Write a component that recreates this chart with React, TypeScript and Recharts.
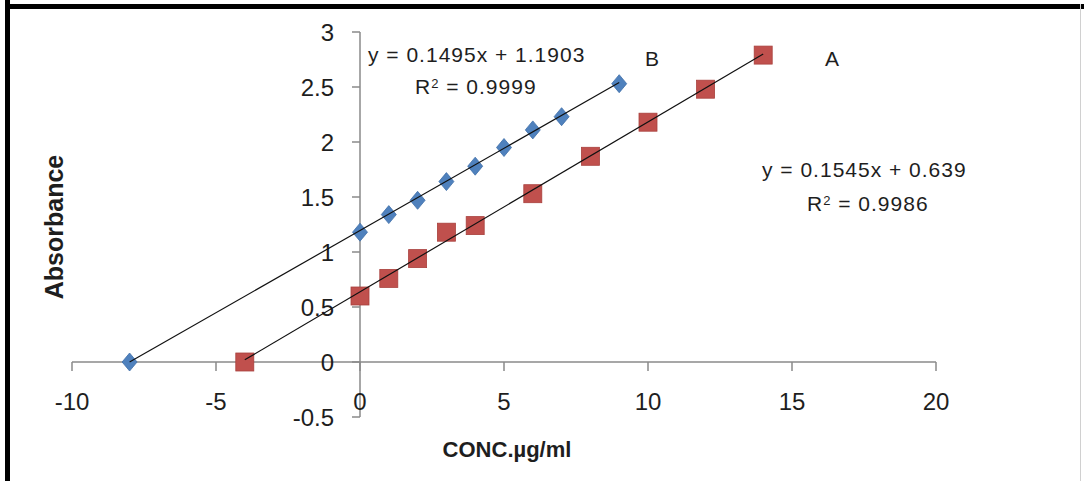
import React from 'react';
import { ScatterChart, Scatter, XAxis, YAxis, ReferenceLine, ReferenceDot } from 'recharts';

// Series A (red squares)
const seriesAX = [-4, 0, 1, 2, 3, 4, 6, 8, 10, 12, 14];
const seriesAY = [0, 0.6, 0.76, 0.94, 1.18, 1.24, 1.53, 1.87, 2.18, 2.48, 2.79];
// Series B (blue diamonds)
const seriesBX = [-8, 0, 1, 2, 3, 4, 5, 6, 7, 9];
const seriesBY = [0, 1.18, 1.34, 1.47, 1.64, 1.78, 1.95, 2.11, 2.23, 2.53];
// Trend line end points
const trendAX = [-4, 14];
const trendAY = [0.02, 2.8];
const trendBX = [-8, 9];
const trendBY = [0, 2.54];
// Ticks
const xTicks = [-10, -5, 0, 5, 10, 15, 20];
const yTicks = [-0.5, 0, 0.5, 1, 1.5, 2, 2.5, 3];
const yTickLabels = ['-0.5', '0', '0.5', '1', '1.5', '2', '2.5', '3'];

const zip = (xs: number[], ys: number[]) => xs.map((x, i) => ({ x, y: ys[i] }));
const dataA = zip(seriesAX, seriesAY);
const dataB = zip(seriesBX, seriesBY);
const lineA = zip(trendAX, trendAY);
const lineB = zip(trendBX, trendBY);

const FONT = '"Liberation Sans", Arial, sans-serif';
const AXIS = '#8a8a8a';
const TEXT = '#1e1e1e';

const Square = (p: any) => (
  <rect x={p.cx - 9} y={p.cy - 9} width={18} height={18} fill="#C0504D" stroke="#A8403D" strokeWidth={0.8} />
);
const Diamond = (p: any) => (
  <polygon
    points={`${p.cx},${p.cy - 9} ${p.cx + 7.5},${p.cy} ${p.cx},${p.cy + 9} ${p.cx - 7.5},${p.cy}`}
    fill="#4F81BD"
    stroke="#3F6FA8"
    strokeWidth={0.8}
  />
);
const NoDot = () => <g />;

const XTick = (label: string) => (p: any) => (
  <g>
    <line x1={p.cx} y1={p.cy} x2={p.cx} y2={p.cy + 9} stroke={AXIS} strokeWidth={1.5} />
    <text x={p.cx} y={p.cy + 48} textAnchor="middle" fontFamily={FONT} fontSize={24} fill={TEXT}>
      {label}
    </text>
  </g>
);
const YTick = (label: string) => (p: any) => (
  <g>
    <line x1={p.cx - 8} y1={p.cy} x2={p.cx} y2={p.cy} stroke={AXIS} strokeWidth={1.5} />
    <text x={p.cx - 26} y={p.cy + 9} textAnchor="end" fontFamily={FONT} fontSize={24} fill={TEXT}>
      {label}
    </text>
  </g>
);

const txt = (left: number, centerY: number, s: React.ReactNode, extra: any = {}) => (
  <div
    style={{
      position: 'absolute',
      left,
      top: centerY - 12,
      fontFamily: FONT,
      fontSize: 21,
      lineHeight: '24px',
      letterSpacing: 1,
      color: TEXT,
      whiteSpace: 'nowrap',
      ...extra,
    }}
  >
    {s}
  </div>
);

export default function App() {
  return (
    <div style={{ position: 'absolute', left: 0, top: 0, width: 1084, height: 481, background: '#fff', overflow: 'hidden' }}>
      <ScatterChart width={1084} height={481} margin={{ top: 32, right: 148, bottom: 64, left: 72 }}>
        <XAxis type="number" dataKey="x" domain={[-10, 20]} ticks={xTicks} hide />
        <YAxis type="number" dataKey="y" domain={[-0.5, 3]} ticks={yTicks} hide />
        <ReferenceLine y={0} stroke={AXIS} strokeWidth={1.5} />
        <ReferenceLine x={0} stroke={AXIS} strokeWidth={1.5} />
        {xTicks.map((t) => (
          <ReferenceDot key={'xt' + t} x={t} y={0} r={1} shape={XTick(String(t))} />
        ))}
        {yTicks.map((t, i) => (
          <ReferenceDot key={'yt' + t} x={0} y={t} r={1} shape={YTick(yTickLabels[i])} />
        ))}
        <Scatter name="A" data={dataA} shape={Square} isAnimationActive={false} />
        <Scatter name="B" data={dataB} shape={Diamond} isAnimationActive={false} />
        <Scatter data={lineA} line={{ stroke: '#111', strokeWidth: 1.2 }} shape={NoDot} isAnimationActive={false} />
        <Scatter data={lineB} line={{ stroke: '#111', strokeWidth: 1.2 }} shape={NoDot} isAnimationActive={false} />
      </ScatterChart>
      {txt(368, 55, 'y = 0.1495x + 1.1903')}
      {txt(415, 87, <span>R<sup style={{ fontSize: 13, verticalAlign: '6px', lineHeight: 0 }}>2</sup> = 0.9999</span>)}
      {txt(645, 59, 'B')}
      {txt(825, 59, 'A')}
      {txt(762, 170, 'y = 0.1545x + 0.639')}
      {txt(807, 204, <span>R<sup style={{ fontSize: 13, verticalAlign: '6px', lineHeight: 0 }}>2</sup> = 0.9986</span>)}
      <div
        style={{
          position: 'absolute',
          left: 507,
          top: 450,
          transform: 'translate(-50%, -50%)',
          fontFamily: FONT,
          fontWeight: 'bold',
          fontSize: 22,
          color: TEXT,
          whiteSpace: 'nowrap',
        }}
      >
        CONC.µg/ml
      </div>
      <div
        style={{
          position: 'absolute',
          left: 54,
          top: 227,
          transform: 'translate(-50%, -50%) rotate(-90deg)',
          fontFamily: FONT,
          fontWeight: 'bold',
          fontSize: 25,
          color: TEXT,
          whiteSpace: 'nowrap',
        }}
      >
        Absorbance
      </div>
      <div style={{ position: 'absolute', left: 5, top: 0, width: 5, height: 481, background: '#000' }} />
      <div style={{ position: 'absolute', left: 5, top: 4, width: 1079, height: 5, background: '#000' }} />
      <div style={{ position: 'absolute', left: 1080, top: 4, width: 1, height: 477, background: '#d0d0d0' }} />
    </div>
  );
}
